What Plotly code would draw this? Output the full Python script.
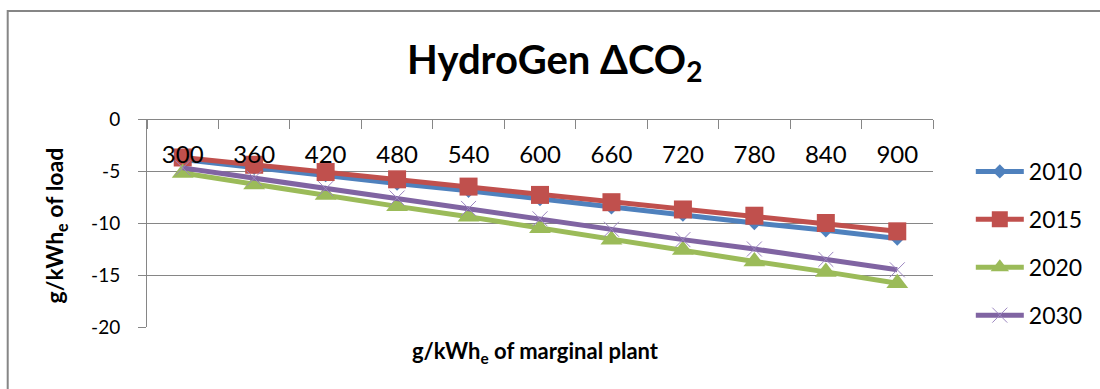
import plotly.graph_objects as go

categories = ["300", "360", "420", "480", "540", "600", "660", "720", "780", "840", "900"]
y2010 = [-3.9, -4.7, -5.4, -6.2, -6.9, -7.7, -8.5, -9.2, -10.0, -10.7, -11.5]
y2015 = [-3.7, -4.4, -5.1, -5.8, -6.5, -7.3, -8.0, -8.7, -9.3, -10.0, -10.8]
y2020 = [-5.2, -6.3, -7.3, -8.4, -9.4, -10.5, -11.6, -12.6, -13.7, -14.7, -15.8]
y2030 = [-4.7, -5.7, -6.7, -7.6, -8.6, -9.6, -10.6, -11.6, -12.5, -13.5, -14.5]
series_names = ["2010", "2015", "2020", "2030"]
y_tickvals = [0, -5, -10, -15, -20]
y_ticktext = ["0", "-5", "-10", "-15", "-20"]

FONT = "Lato, Carlito, 'Open Sans', sans-serif"
GRID = "#868686"

fig = go.Figure()
specs = [
    (y2010, "#4F81BD", dict(symbol="diamond", size=11, color="#4F81BD")),
    (y2015, "#C0504D", dict(symbol="square", size=18, color="#C0504D")),
    (y2020, "#9BBB59", dict(symbol="triangle-up", size=19, color="#9BBB59")),
    (y2030, "#8064A2", dict(symbol="x-thin-open", size=15, color="#9C86C0",
                            line=dict(width=1, color="#9C86C0"))),
]
for name, (ys, col, mk) in zip(series_names, specs):
    fig.add_trace(go.Scatter(
        x=categories, y=ys, name=name, mode="lines+markers",
        line=dict(color=col, width=5), marker=mk, legendgroup=name,
    ))

fig.update_layout(
    width=1100, height=389,
    margin=dict(l=147, r=163, t=119, b=62),
    paper_bgcolor="white", plot_bgcolor="white",
    font=dict(family=FONT, color="black"),
    showlegend=True,
    legend=dict(x=(975 - 147) / 790, y=0.851, xanchor="left", yanchor="top",
                font=dict(size=23, family=FONT), tracegroupgap=15, itemwidth=48,
                bgcolor="rgba(0,0,0,0)"),
    xaxis=dict(type="category", side="bottom", anchor="free", position=1,
               range=[-0.5, len(categories) - 0.5], autorange=False,
               showgrid=False, showline=True, linecolor=GRID, linewidth=1,
               ticks="outside", ticklen=9, tickcolor=GRID, tickson="boundaries",
               ticklabelstandoff=14,
               tickfont=dict(size=24, family=FONT), zeroline=False),
    yaxis=dict(range=[-20, 0], tickvals=y_tickvals, ticktext=y_ticktext,
               showgrid=True, gridcolor=GRID, gridwidth=1,
               showline=True, linecolor=GRID, linewidth=1, zeroline=False,
               ticks="outside", ticklen=8, tickcolor=GRID,
               tickfont=dict(size=19, family=FONT), ticklabelstandoff=14),
)

fig.add_annotation(text="<b>HydroGen ΔCO<sub>2</sub></b>", xref="paper", yref="paper",
                   x=(557 - 147) / 790, y=1 + (119 - 62) / 208, xanchor="center", yanchor="middle",
                   showarrow=False, font=dict(size=40, family=FONT))
fig.add_annotation(text="<b>g/kWh<sub>e</sub> of load</b>", xref="paper", yref="paper",
                   x=-(147 - 55) / 790, y=(327 - 225) / 208, xanchor="center", yanchor="middle",
                   textangle=-90, showarrow=False, font=dict(size=23, family=FONT))
fig.add_annotation(text="<b>g/kWh<sub>e</sub> of marginal plant</b>", xref="paper", yref="paper",
                   x=(537 - 147) / 790, y=-(352 - 327) / 208, xanchor="center", yanchor="middle",
                   showarrow=False, font=dict(size=22, family=FONT))

fig.add_shape(type="rect", xref="paper", yref="paper",
              x0=-(147 - 7) / 790, x1=(1110 - 147) / 790,
              y0=-(400 - 327) / 208, y1=1 + (119 - 11) / 208,
              line=dict(color="#868686", width=2), fillcolor="rgba(0,0,0,0)", layer="below")

fig.write_html("out.html")
